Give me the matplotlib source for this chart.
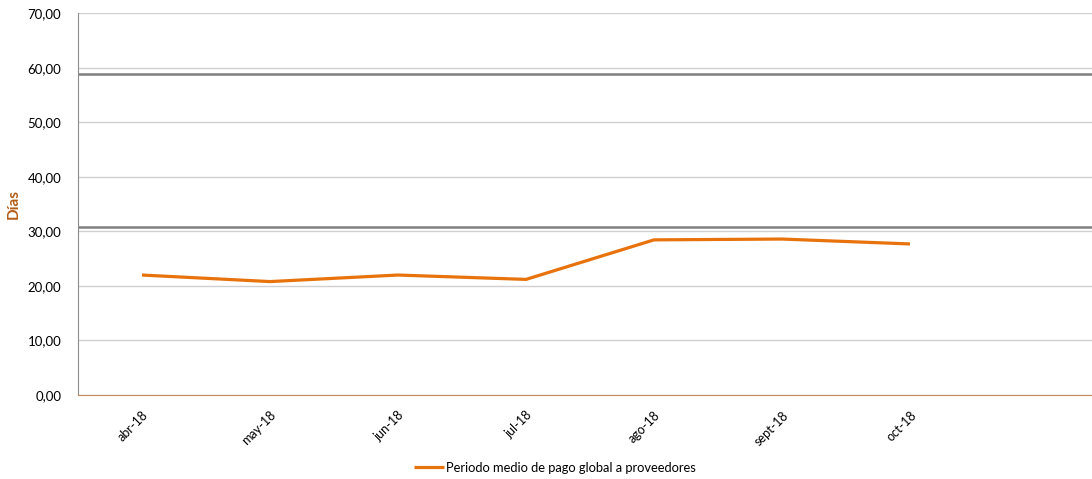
import matplotlib
matplotlib.use("Agg")
import matplotlib.pyplot as plt
from matplotlib.ticker import FuncFormatter

plt.rcParams['font.family'] = ['Lato', 'DejaVu Sans']

months = ["abr-18", "may-18", "jun-18", "jul-18", "ago-18", "sept-18", "oct-18", ""]
pmp = [22.0, 20.8, 22.0, 21.2, 28.45, 28.6, 27.7]
ref_lines = [58.95, 30.75]

fig = plt.figure(figsize=(10.92, 4.79), dpi=100)
# axes extends slightly past the right edge like the original
ax = fig.add_axes([78 / 1092, 1 - 395 / 479, 1024 / 1092, (395 - 13.3) / 479])

x = list(range(len(months)))
ax.set_xlim(-0.5, len(months) - 0.5)
ax.set_ylim(0, 70)
ax.set_yticks(range(0, 71, 10))
ax.yaxis.set_major_formatter(FuncFormatter(lambda v, p: f"{v:.2f}".replace(".", ",")))

# gridlines
ax.grid(True, axis='y', color='#D0D0D0', linewidth=1)
ax.set_axisbelow(True)

for yv in ref_lines:
    ax.axhline(yv, color='#808080', linewidth=1.8, zorder=2)

ax.plot(x[:len(pmp)], pmp, color='#E8720C', linewidth=2.3, solid_capstyle='butt',
        label='Periodo medio de pago global a proveedores', zorder=3)

ax.set_xticks(x)
ax.set_xticklabels(months, rotation=45, ha='right', rotation_mode='anchor', fontsize=9)
ax.tick_params(axis='x', length=0, pad=10)
ax.tick_params(axis='y', length=0, labelsize=9.5, pad=12)

for s in ['top', 'right']:
    ax.spines[s].set_visible(False)
ax.spines['left'].set_color('#8C8C8C')
ax.spines['bottom'].set_color('#C8895A')

ax.set_ylabel('Días', fontsize=11, fontweight='bold', color='#B35E1A')
ax.yaxis.set_label_coords(-0.056, 0.5)

lines, labels = ax.get_legend_handles_labels()
fig.legend(lines, labels, loc='center', bbox_to_anchor=(555 / 1092, 1 - 468 / 479),
           frameon=False, fontsize=9.3, handlelength=2.3, handletextpad=0.2)

fig.savefig('out.png', dpi=100)
